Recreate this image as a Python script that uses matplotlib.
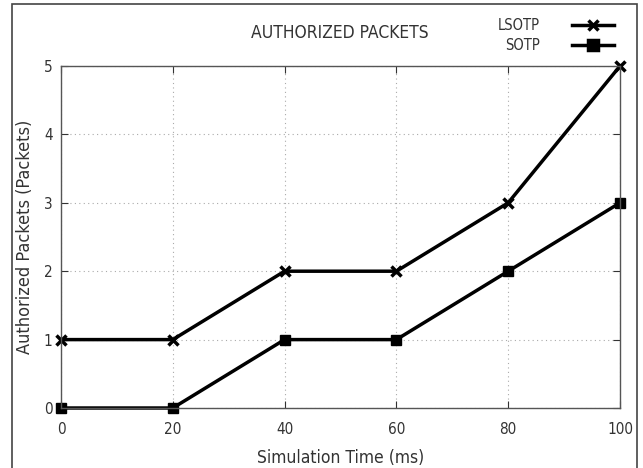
import matplotlib.pyplot as plt
from matplotlib.patches import Rectangle
from matplotlib.lines import Line2D

time_ms = [0, 20, 40, 60, 80, 100]
lsotp = [1, 1, 2, 2, 3, 5]
sotp = [0, 0, 1, 1, 2, 3]

plt.rcParams['font.family'] = ['DejaVu Sans']
plt.rcParams['font.stretch'] = 'condensed'

fig = plt.figure(figsize=(6.43, 4.68), dpi=100)
W, H = 643, 468
ax = fig.add_axes([61 / W, 1 - 408 / H, (620 - 61) / W, (408 - 66) / H])

ax.plot(time_ms, lsotp, color='black', lw=2.5, marker='x', ms=7, mew=2.5,
        label='LSOTP', clip_on=False)
ax.plot(time_ms, sotp, color='black', lw=2.5, marker='s', ms=7,
        label='SOTP', clip_on=False)

ax.set_xlim(0, 100)
ax.set_ylim(0, 5)
ax.set_xticks(time_ms)
ax.set_yticks(range(6))
ax.grid(True, color='#aaaaaa', linestyle=(0, (1, 3)), lw=0.8)
ax.tick_params(direction='in', top=True, right=True, length=5, width=0.8,
               labelsize=11, colors='#333333', pad=10)
ax.tick_params(axis='y', pad=6)
for s in ax.spines.values():
    s.set_color('#555555')
    s.set_linewidth(1.0)

ax.set_xlabel('Simulation Time (ms)', fontsize=12.5, color='#333333', labelpad=9)
ax.set_ylabel('Authorized Packets (Packets)', fontsize=13, color='#333333', labelpad=7)
fig.text(340 / W, 1 - 33 / H, 'AUTHORIZED PACKETS', fontsize=12.5, color='#333333',
         ha='center', va='center')

# legend (gnuplot style, top right outside the plot)
for i, (lab, mk) in enumerate([('LSOTP', 'x'), ('SOTP', 's')]):
    y = 1 - (25 + i * 20) / H
    fig.text(540 / W, y, lab, fontsize=10.5, color='#333333', ha='right', va='center')
    fig.add_artist(Line2D([572 / W, 614 / W], [y, y], color='black', lw=2.5))
    fig.add_artist(Line2D([593 / W], [y], color='black', marker=mk, ms=7, mew=2.5))

fig.add_artist(Rectangle((12 / W, -0.01), (637 - 12) / W, 1 - 4 / H + 0.01,
                         transform=fig.transFigure, fill=False,
                         edgecolor='#444444', lw=1.2))

fig.savefig('out.png', dpi=100)
